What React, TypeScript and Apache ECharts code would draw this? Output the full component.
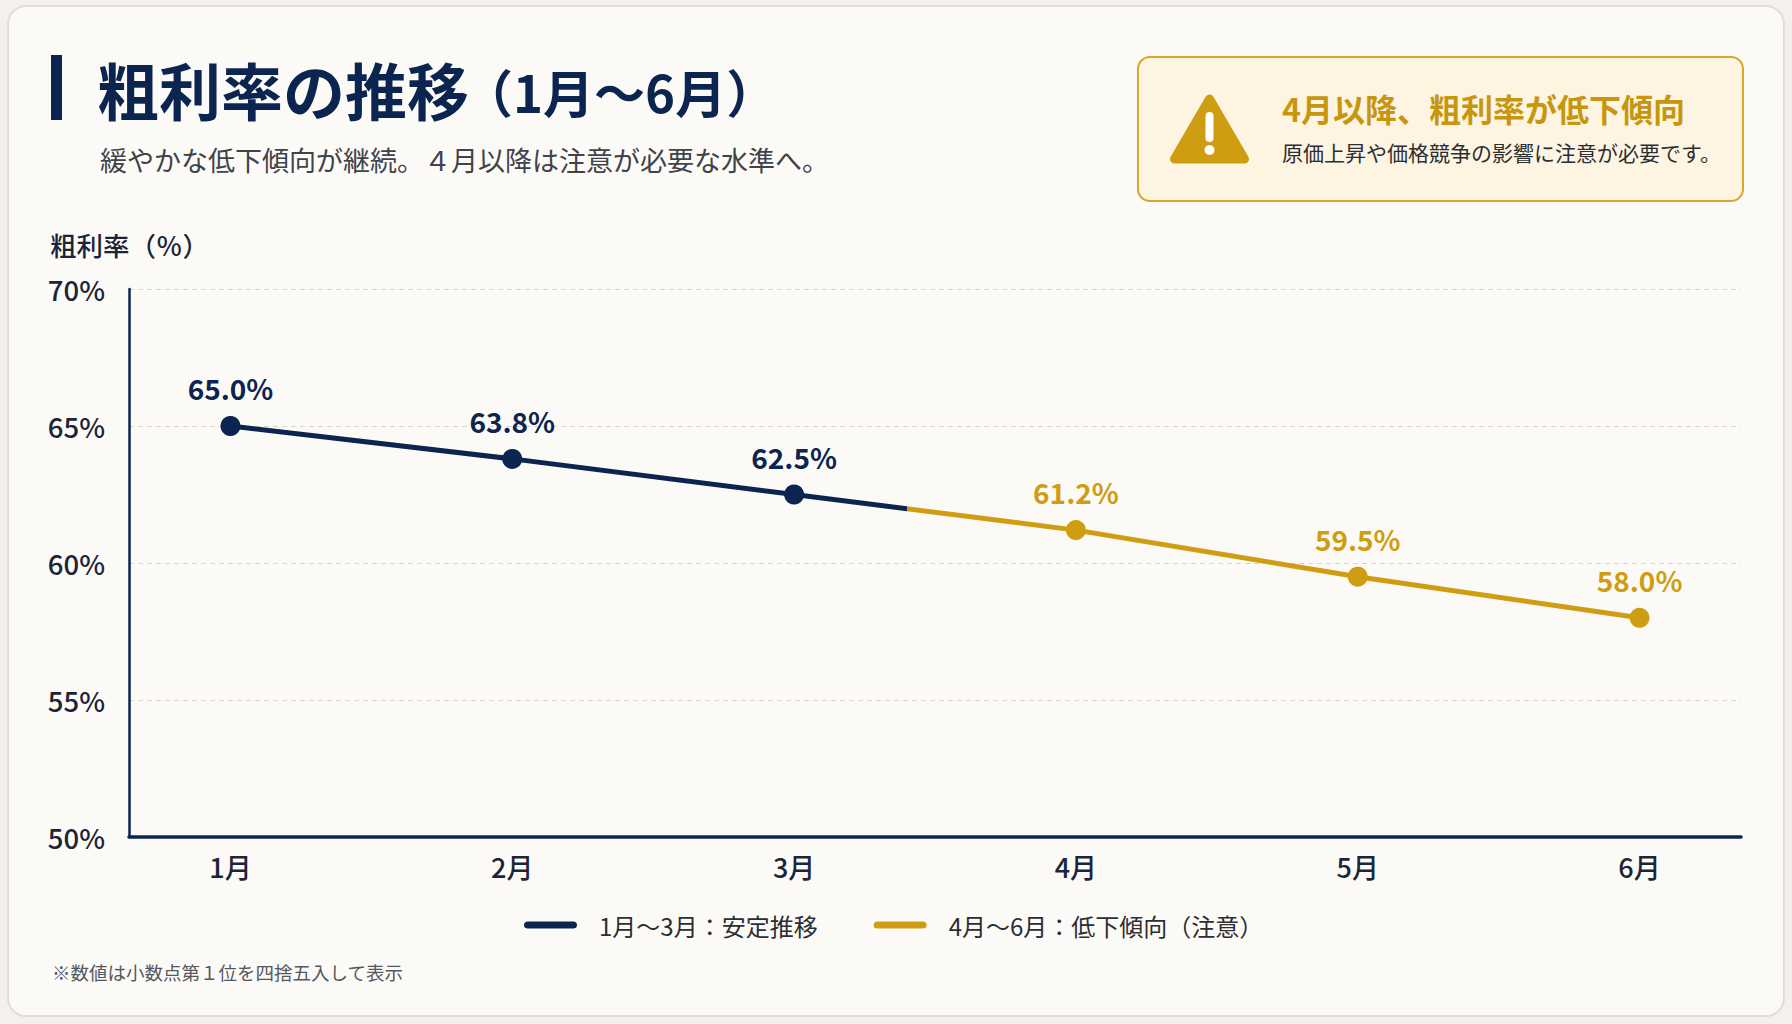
import { useEffect, useRef } from 'react';
import * as echarts from 'echarts';

// months on the x axis
const months = ['1月', '2月', '3月', '4月', '5月', '6月'];
// gross margin rate (%) per month
const grossMargin = [65.0, 63.8, 62.5, 61.2, 59.5, 58.0];
// legend captions
const legendNames = ['1月～3月：安定推移', '4月～6月：低下傾向（注意）'];
// number of "stable" months (navy), the rest is drawn in gold
const stableMonths = 3;
// where the line switches colour (x axis units)
const colorSplitAt = 2.4;
// y axis range
const yMin = 50;
const yMax = 70;
const yStep = 5;

const NAVY = '#0c2550';
const GOLD = '#cf9d12';
const FONT = "'Noto Sans CJK JP', 'Noto Sans', sans-serif";

export default function App() {
  const chartRef = useRef<HTMLDivElement>(null);

  useEffect(() => {
    if (!chartRef.current) return;
    const chart = echarts.init(chartRef.current, null, { renderer: 'svg' });

    const option: echarts.EChartsOption = {
      animation: false,
      backgroundColor: '#f3f1ed',
      textStyle: { fontFamily: FONT },
      graphic: [
        // card
        {
          type: 'rect',
          z: -10,
          shape: { x: 8, y: 6, width: 1776, height: 1010, r: 18 },
          style: { fill: '#fcfaf6', stroke: '#e2ded6', lineWidth: 2 },
        },
        // title accent bar
        {
          type: 'rect',
          shape: { x: 51, y: 55, width: 11, height: 65 },
          style: { fill: NAVY },
        },
        {
          type: 'text',
          x: 97,
          y: 89,
          style: {
            text: '粗利率の推移',
            font: `bold 62px ${FONT}`,
            fill: NAVY,
            textAlign: 'left',
            textVerticalAlign: 'middle',
          },
        },
        {
          type: 'text',
          x: 462,
          y: 91,
          style: {
            text: '（1月〜6月）',
            font: `bold 51px ${FONT}`,
            fill: NAVY,
            textAlign: 'left',
            textVerticalAlign: 'middle',
          },
        },
        {
          type: 'text',
          x: 100,
          y: 159,
          style: {
            text: '緩やかな低下傾向が継続。４月以降は注意が必要な水準へ。',
            font: `27px ${FONT}`,
            fill: '#3f434a',
            textAlign: 'left',
            textVerticalAlign: 'middle',
          },
        },
        // warning box
        {
          type: 'rect',
          shape: { x: 1138, y: 57, width: 605, height: 144, r: 12 },
          style: { fill: '#fdf5e2', stroke: '#d8a62a', lineWidth: 2 },
        },
        {
          type: 'polygon',
          shape: { points: [[1209.5, 99], [1244.5, 159], [1174.5, 159]] },
          style: { fill: GOLD, stroke: GOLD, lineWidth: 9, lineJoin: 'round' },
        },
        {
          type: 'rect',
          shape: { x: 1205.5, y: 112, width: 8, height: 30, r: 4 },
          style: { fill: '#ffffff' },
        },
        {
          type: 'circle',
          shape: { cx: 1209.5, cy: 150, r: 5 },
          style: { fill: '#ffffff' },
        },
        {
          type: 'text',
          x: 1282,
          y: 108,
          style: {
            text: '4月以降、粗利率が低下傾向',
            font: `bold 32px ${FONT}`,
            fill: '#c8960e',
            textAlign: 'left',
            textVerticalAlign: 'middle',
          },
        },
        {
          type: 'text',
          x: 1282,
          y: 152,
          style: {
            text: '原価上昇や価格競争の影響に注意が必要です。',
            font: `21px ${FONT}`,
            fill: '#2b2e33',
            textAlign: 'left',
            textVerticalAlign: 'middle',
          },
        },
        // y axis caption
        {
          type: 'text',
          x: 50,
          y: 244,
          style: {
            text: '粗利率（％）',
            font: `500 26.5px ${FONT}`,
            fill: '#1c2538',
            textAlign: 'left',
            textVerticalAlign: 'middle',
          },
        },
        // footnote
        {
          type: 'text',
          x: 52,
          y: 972,
          style: {
            text: '※数値は小数点第１位を四捨五入して表示',
            font: `18.5px ${FONT}`,
            fill: '#55585e',
            textAlign: 'left',
            textVerticalAlign: 'middle',
          },
        },
      ],
      grid: {
        left: 129,
        top: 289,
        width: 1612,
        height: 548,
        containLabel: false,
      },
      xAxis: {
        type: 'value',
        min: -0.36,
        max: 5.36,
        axisLine: { show: true, onZero: false, lineStyle: { color: NAVY, width: 3.5 } },
        axisTick: { show: false },
        splitLine: { show: false },
        axisLabel: {
          customValues: months.map((_, i) => i),
          formatter: (v: number) => months[Math.round(v)] ?? '',
          color: '#1c2538',
          fontSize: 27,
          fontWeight: 500,
          fontFamily: FONT,
          margin: 16,
        },
      },
      yAxis: {
        type: 'value',
        min: yMin,
        max: yMax,
        interval: yStep,
        axisLine: { show: true, onZero: false, lineStyle: { color: NAVY, width: 2.5 } },
        axisTick: { show: false },
        axisLabel: {
          formatter: '{value}%',
          color: '#1c2538',
          fontSize: 27.5,
          fontWeight: 500,
          fontFamily: FONT,
          margin: 24,
        },
        splitLine: {
          lineStyle: { color: '#d8d5cf', type: [5, 4], width: 1.2 },
        },
      },
      visualMap: {
        show: false,
        type: 'piecewise',
        dimension: 0,
        seriesIndex: 0,
        pieces: [
          { min: -1, max: colorSplitAt, color: NAVY },
          { min: colorSplitAt, max: months.length, color: GOLD },
        ],
      },
      legend: {
        left: 519,
        top: 908,
        itemWidth: 53,
        itemHeight: 7,
        itemGap: 56,
        symbolKeepAspect: false,
        textStyle: {
          color: '#2b2e33',
          fontSize: 24,
          fontFamily: FONT,
          padding: [0, 0, 0, 17],
        },
        data: legendNames.map((name, i) => ({
          name,
          icon: 'path://M4,0H49A4,4,0,0,1,49,8H4A4,4,0,0,1,4,0Z',
          itemStyle: { color: i === 0 ? NAVY : GOLD },
        })),
      },
      series: [
        {
          name: '粗利率',
          type: 'line',
          data: grossMargin.map((v, i) => ({
            value: [i, v],
            label: { color: i < stableMonths ? NAVY : GOLD },
          })),
          symbol: 'circle',
          symbolSize: 20,
          lineStyle: { width: 5 },
          label: {
            show: true,
            position: 'top',
            distance: 14,
            fontSize: 28,
            fontWeight: 'bold',
            fontFamily: FONT,
            formatter: (p: any) => `${p.value[1].toFixed(1)}%`,
          },
          emphasis: { disabled: true },
          z: 5,
        },
        {
          name: legendNames[0],
          type: 'line',
          data: [],
          lineStyle: { color: NAVY },
          itemStyle: { color: NAVY },
        },
        {
          name: legendNames[1],
          type: 'line',
          data: [],
          lineStyle: { color: GOLD },
          itemStyle: { color: GOLD },
        },
      ],
    };

    chart.setOption(option);
    return () => {
      chart.dispose();
    };
  }, []);

  return (
    <div
      ref={chartRef}
      style={{ position: 'fixed', left: 0, top: 0, width: '1792px', height: '1024px' }}
    />
  );
}
